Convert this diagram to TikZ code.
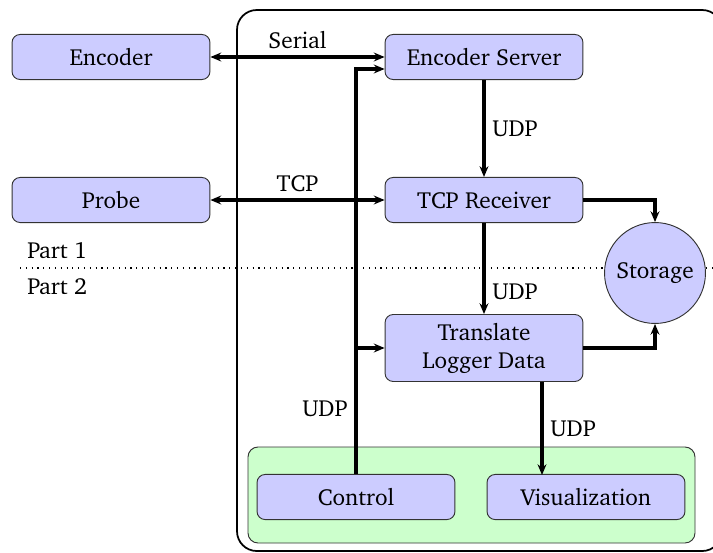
\documentclass[tikz,border=0pt]{standalone}
\usepackage[T1]{fontenc}
\usepackage{charter}
\usetikzlibrary{arrows.meta,calc}

\begin{document}
\begin{tikzpicture}[x=0.43pt,y=-0.43pt,
  box/.style={draw=black!80, fill=blue!20, rounded corners=3.5pt,
    minimum width=85.1pt, minimum height=19.4pt, inner sep=2pt,
    align=center, line width=0.4pt},
  tallbox/.style={box, minimum height=28.8pt},
  store/.style={circle, draw=black!80, fill=blue!20, minimum size=43.4pt,
    inner sep=0pt, line width=0.4pt},
  conn/.style={line width=1.3pt, -{Stealth[length=4.6pt,width=3.8pt]}},
  biconn/.style={line width=1.3pt, {Stealth[length=4.6pt,width=3.8pt]}-{Stealth[length=4.6pt,width=3.8pt]}},
  frame/.style={draw=black, line width=0.75pt, rounded corners=8.5pt},
  area/.style={draw=black!80, fill=green!20, line width=0.4pt, rounded corners=4.3pt},
  partlbl/.style={anchor=west, inner sep=0pt},
  lbl/.style={inner sep=3pt}
]
  \useasboundingbox (0,0) rectangle (713,552);
  \clip (0,0) rectangle (713,552);

  % system frame and the client area
  \draw[frame] (237,10) rectangle (722,551);
  \draw[area] (248,447) rectangle (695,543);

  % boundary between the two parts
  \coordinate (sepL) at (20,268);
  \coordinate (sepR) at (713,268);
  \draw[dotted, line width=0.5pt] (sepL) -- (sepR);
  \node[partlbl] (p1) at (27,251) {Part 1};
  \node[partlbl] (p2) at (27,287) {Part 2};

  % components
  \node[box] (enc)    at (111,57)  {Encoder};
  \node[box] (probe)  at (111,200) {Probe};
  \node[box] (encsrv) at (484,57)  {Encoder Server};
  \node[box] (tcp)    at (484,200) {TCP Receiver};
  \node[tallbox] (trans) at (484,348) {Translate\\Logger Data};
  \node[store] (stor) at (655,273) {Storage};
  \node[box] (ctrl)   at (356,497) {Control};
  \node[box] (vis)    at (586,497) {Visualization};

  % links
  \draw[biconn] (enc.east) -- node[lbl, above] {Serial} (encsrv.west);
  \draw[biconn] (probe.east) -- node[lbl, above] {TCP} (tcp.west);
  \draw[conn] (encsrv) -- node[lbl, right] {UDP} (tcp);
  \draw[conn] (tcp) -- node[lbl, right, pos=0.75] {UDP} (trans);
  \draw[conn] (tcp.east) -| (stor.north);
  \draw[conn] (trans.east) -| (stor.south);

  \coordinate (visTop) at (542,475);
  \draw[conn] (trans.south -| visTop) -- node[lbl, right] {UDP} (visTop);

  \coordinate (ctrlTurn) at ($(ctrl.north |- encsrv.west)+(0,12)$);
  \draw[conn] (ctrl.north) -- node[lbl, left, pos=0.16] {UDP} (ctrlTurn)
    -- (encsrv.west |- ctrlTurn);
  \draw[conn] (ctrl.north |- trans.west) -- (trans.west);
\end{tikzpicture}
\end{document}
